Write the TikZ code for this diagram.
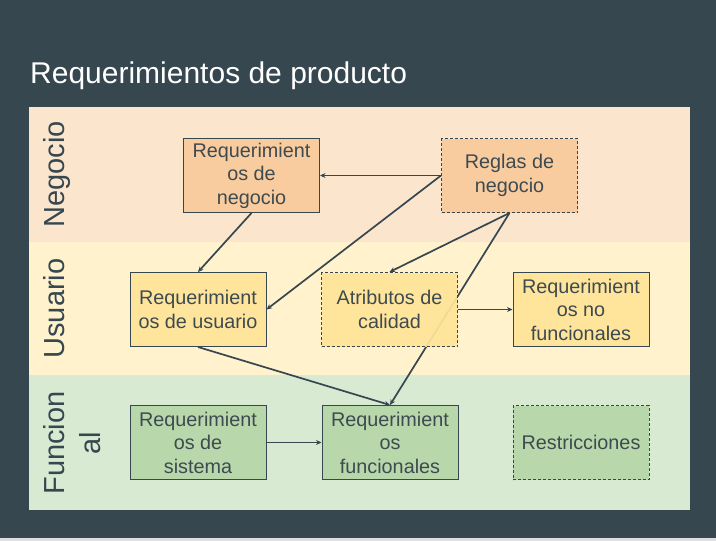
\documentclass[tikz,border=0pt]{standalone}
\usepackage{fontspec}
\setmainfont{Liberation Sans}
\usetikzlibrary{arrows.meta}
\pgfdeclarelayer{bg}
\pgfsetlayers{bg,main}
\definecolor{slate}{HTML}{36474F}
\definecolor{txt}{HTML}{3D4A50}
\definecolor{bandA}{HTML}{FCE5CD}
\definecolor{bandB}{HTML}{FFF2CC}
\definecolor{bandC}{HTML}{D9EAD3}
\definecolor{boxA}{HTML}{F9CB9C}
\definecolor{boxB}{HTML}{FFE599}
\definecolor{boxC}{HTML}{B6D7A8}
\tikzset{
  reqbox/.style={draw=slate, line width=1pt, minimum width=136pt, minimum height=74pt,
    inner sep=0pt, align=center, text=txt, fill opacity=0.93, text opacity=1, draw opacity=1,
    font=\fontsize{19.8}{23.5}\selectfont},
  dashbox/.style={reqbox, dash pattern=on 3pt off 2pt},
  bandlabel/.style={rotate=90, anchor=north, align=center, text=slate,
    font=\fontsize{29}{36}\selectfont, inner sep=0pt},
  conn/.style={draw=slate, line width=1.7pt, -{Stealth[length=5.5pt,width=5pt]}}
}
\begin{document}
\begin{tikzpicture}[x=1pt,y=-1pt]
\useasboundingbox (0,0) rectangle (716,541);
\node[anchor=base west, text=white, inner sep=0pt, font=\fontsize{30}{36}\selectfont] (title) at (30,83) {Requerimientos de producto};
\node[bandlabel] (lneg) at (43,174.5) {Negocio};
\node[bandlabel] (lusu) at (43,308.5) {Usuario};
\node[bandlabel] (lfun) at (43,443) {Funcion\\al};
% boxes
\node[reqbox, fill=boxA] (rn) at (251.5,175.5) {Requerimient\\os de\\negocio};
\node[dashbox, fill=boxA] (rg) at (509.5,175.5) {Reglas de\\negocio};
\node[reqbox, fill=boxB] (ru) at (198,309.5) {Requerimient\\os de usuario};
\node[dashbox, fill=boxB] (at) at (389.5,309.5) {Atributos de\\calidad};
\node[reqbox, fill=boxB] (rnf) at (581,309.5) {Requerimient\\os no\\funcionales};
\node[reqbox, fill=boxC] (rs) at (198,442.5) {Requerimient\\os de\\sistema};
\node[reqbox, fill=boxC] (rf) at (390,442.5) {Requerimient\\os\\funcionales};
\node[dashbox, fill=boxC] (re) at (581,442.5) {Restricciones};
% background and connectors
\begin{pgfonlayer}{bg}
\fill[slate] (0,0) rectangle (716,541);
\fill[gray!25] (0,538) rectangle (716,541);
\fill[bandA] (29,107) rectangle (690,242);
\fill[bandB] (29,242) rectangle (690,375);
\fill[bandC] (29,375) rectangle (690,510);
\draw[conn] (rg.west) -- (rn.east);
\draw[conn] (rg.west) -- (ru.east);
\draw[conn] (rg.south) -- (at.north);
\draw[conn] (rg.south) -- (rf.north);
\draw[conn] (rn.south) -- (ru.north);
\draw[conn] (ru.south) -- (rf.north);
\draw[conn] (at.east) -- (rnf.west);
\draw[conn] (rs.east) -- (rf.west);
\end{pgfonlayer}
\end{tikzpicture}
\end{document}
